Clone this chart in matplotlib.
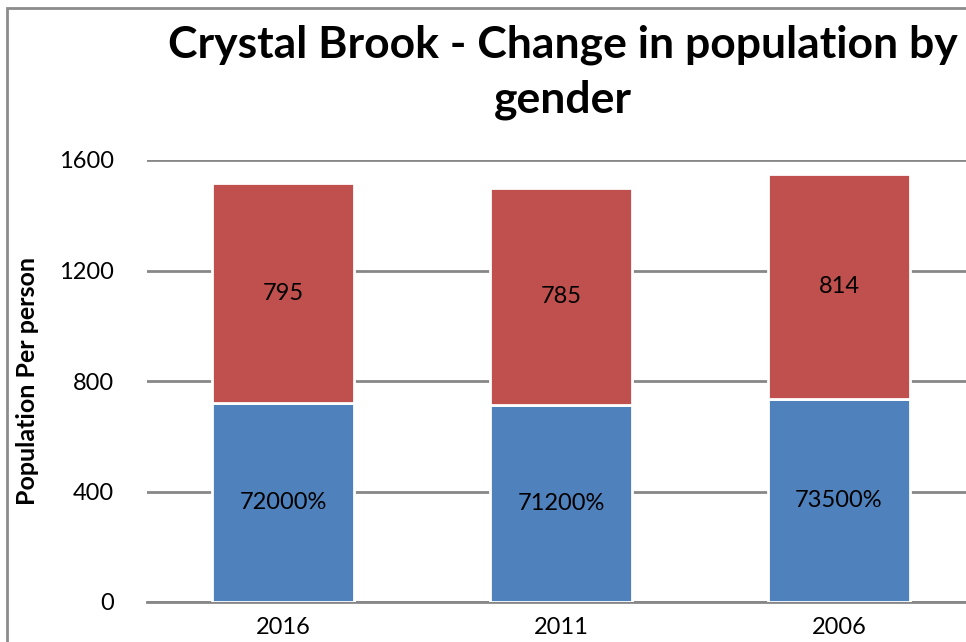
import matplotlib.pyplot as plt
from matplotlib.patches import Rectangle

# data
years = ["2016", "2011", "2006"]
male = [720, 712, 735]
female = [795, 785, 814]
male_labels = ["72000%", "71200%", "73500%"]
female_labels = ["795", "785", "814"]
yticks = [0, 400, 800, 1200, 1600]

plt.rcParams['font.family'] = ['Lato', 'DejaVu Sans']

fig = plt.figure(figsize=(9.66, 6.42), dpi=100)
ax = fig.add_axes([147 / 966, 40 / 642, 819 / 966, 442 / 642])

x = list(range(len(years)))
blue = "#4F81BD"
red = "#C0504D"

b1 = ax.bar(x, male, width=0.51, color=blue, edgecolor="white", linewidth=2, zorder=3)
b2 = ax.bar(x, female, bottom=male, width=0.51, color=red, edgecolor="white", linewidth=2, zorder=3)

ax.bar_label(b1, labels=male_labels, label_type="center", fontsize=17)
ax.bar_label(b2, labels=female_labels, label_type="center", fontsize=17)

ax.set_ylim(0, 1600)
ax.set_xlim(-0.49, 2.457)
ax.set_yticks(yticks)
ax.set_yticklabels([str(v) for v in yticks])
ax.set_xticks(x)
ax.set_xticklabels(years)
ax.tick_params(axis="both", length=0, labelsize=17)
ax.tick_params(axis="y", pad=24)
ax.tick_params(axis="x", pad=11)

ax.yaxis.grid(True, color="#878787", linewidth=2, zorder=0)
ax.set_axisbelow(True)
for s in ["top", "right", "left"]:
    ax.spines[s].set_visible(False)
ax.spines["bottom"].set_color("#878787")
ax.spines["bottom"].set_linewidth(2)
ax.spines["bottom"].set_zorder(2)

ax.set_ylabel("Population Per person", fontsize=18, fontweight="bold", labelpad=14)

fig.text(0.583, 0.887, "Crystal Brook - Change in population by\ngender", ha="center", va="center",
         fontsize=32, fontweight="bold", linespacing=1.45)

# outer chart border (cropped at right and bottom)
fig.patches.append(Rectangle((7 / 966, -0.1), 1.2, 1 - 8 / 642 + 0.1, transform=fig.transFigure,
                             fill=False, edgecolor="#8c8c8c", linewidth=2))

fig.savefig("out.png", dpi=100)
